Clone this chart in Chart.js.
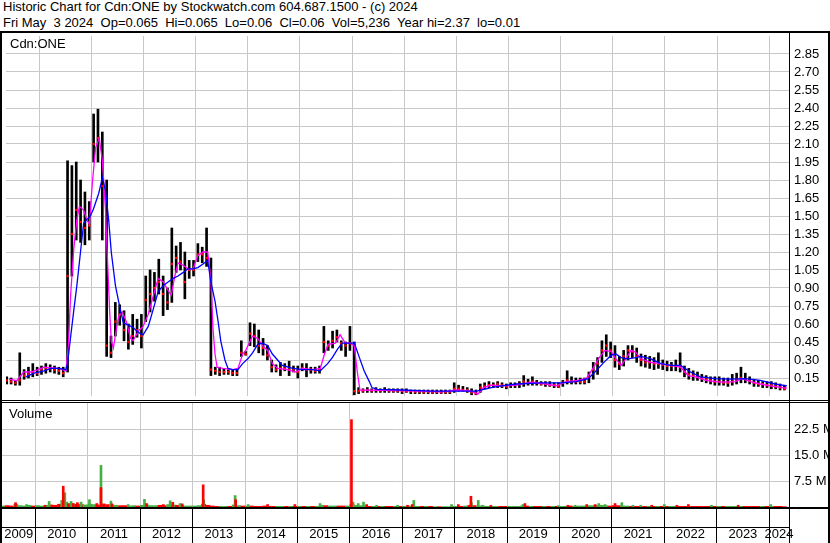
<!DOCTYPE html>
<html>
<head>
<meta charset="utf-8">
<script src="https://cdn.jsdelivr.net/npm/chart.js@4.4.0/dist/chart.umd.min.js"></script>
<style>
  body { margin:0; background:#fff; width:830px; height:543px; overflow:hidden; position:relative;
         font-family:"Liberation Sans", Arial, sans-serif; }
  .txt { position:absolute; font-size:13px; line-height:16px; white-space:pre; color:#000; }
  .ln { position:absolute; background:#000; }
  canvas { position:absolute; }
</style>
</head>
<body>
<div class="txt" style="left:3px;top:-1px">Historic Chart for Cdn:ONE by Stockwatch.com 604.687.1500 - (c) 2024</div>
<div class="txt" style="left:3px;top:15px">Fri May  3 2024  Op=0.065  Hi=0.065  Lo=0.06  Cl=0.06  Vol=5,236  Year hi=2.37  lo=0.01</div>

<canvas id="priceChart" width="828" height="368" style="left:2px;top:32px"></canvas>
<canvas id="volChart" width="828" height="140" style="left:2px;top:403px"></canvas>

<div class="txt" style="left:10px;top:36px">Cdn:ONE</div>
<div class="txt" style="left:9px;top:406px">Volume</div>

<!-- frame -->
<div class="ln" style="left:0;top:31px;width:830px;height:2px"></div>
<div class="ln" style="left:0;top:31px;width:2px;height:512px"></div>
<div class="ln" style="left:789px;top:31px;width:1px;height:512px"></div>
<div class="ln" style="left:828px;top:31px;width:2px;height:512px"></div>
<div class="ln" style="left:0;top:400px;width:830px;height:1px"></div>
<div class="ln" style="left:0;top:402px;width:830px;height:1px"></div>
<div class="ln" style="left:0;top:507px;width:830px;height:2px"></div>
<div class="ln" style="left:0;top:527px;width:790px;height:1px"></div>

<script>
// first bar = May 2009, one bar per month, last = Apr 2024
const hi = [
  0.16,0.15,0.13,0.36,0.22,0.24,0.27,0.24,                  // 2009
  0.25,0.27,0.26,0.25,0.24,0.24,1.96,1.92,1.95,1.80,1.70,1.62, // 2010
  2.35,2.39,2.20,1.80,0.50,0.78,0.76,0.71,0.60,0.68,0.64,0.68, // 2011
  1.00,1.05,1.03,1.14,1.00,0.90,1.40,1.25,1.28,1.20,1.13,1.13, // 2012
  1.27,1.24,1.40,1.15,0.24,0.24,0.23,0.22,0.22,0.23,0.46,0.37, // 2013
  0.61,0.60,0.55,0.48,0.42,0.30,0.26,0.28,0.27,0.29,0.25,0.25, // 2014
  0.27,0.27,0.24,0.24,0.25,0.58,0.46,0.54,0.55,0.46,0.45,0.58, // 2015
  0.45,0.07,0.06,0.07,0.06,0.07,0.06,0.07,0.06,0.06,0.06,0.06, // 2016
  0.06,0.05,0.05,0.05,0.05,0.05,0.05,0.05,0.05,0.05,0.05,0.11, // 2017
  0.09,0.08,0.07,0.06,0.05,0.10,0.11,0.12,0.11,0.12,0.11,0.10, // 2018
  0.11,0.11,0.12,0.17,0.14,0.16,0.13,0.12,0.12,0.12,0.11,0.11, // 2019
  0.13,0.21,0.16,0.15,0.15,0.15,0.20,0.28,0.32,0.46,0.51,0.45, // 2020
  0.42,0.33,0.38,0.42,0.42,0.40,0.35,0.34,0.33,0.32,0.36,0.30, // 2021
  0.29,0.28,0.30,0.36,0.25,0.23,0.21,0.20,0.18,0.17,0.16,0.16, // 2022
  0.16,0.15,0.15,0.18,0.19,0.24,0.19,0.16,0.14,0.13,0.12,0.12, // 2023
  0.12,0.11,0.10,0.09                                          // 2024
];
const lo = [
  0.10,0.10,0.09,0.09,0.14,0.15,0.16,0.17,
  0.18,0.19,0.20,0.19,0.18,0.16,0.20,1.00,1.30,1.28,1.26,1.30,
  1.95,1.95,1.30,0.33,0.32,0.50,0.59,0.46,0.39,0.43,0.49,0.40,
  0.62,0.70,0.79,0.85,0.67,0.72,0.78,1.03,1.05,0.81,0.98,1.00,
  1.12,1.11,1.08,0.17,0.18,0.17,0.18,0.18,0.17,0.17,0.33,0.34,
  0.42,0.41,0.36,0.34,0.30,0.20,0.20,0.17,0.21,0.17,0.20,0.15,
  0.21,0.16,0.19,0.19,0.19,0.36,0.38,0.40,0.45,0.38,0.33,0.38,
  0.01,0.02,0.03,0.03,0.03,0.03,0.03,0.03,0.03,0.03,0.03,0.02,
  0.03,0.02,0.02,0.02,0.02,0.02,0.02,0.02,0.02,0.02,0.02,0.03,
  0.04,0.04,0.03,0.01,0.01,0.03,0.06,0.07,0.07,0.07,0.07,0.06,
  0.07,0.07,0.07,0.08,0.09,0.09,0.09,0.09,0.08,0.08,0.07,0.07,
  0.08,0.10,0.10,0.10,0.10,0.10,0.11,0.14,0.18,0.28,0.33,0.32,
  0.24,0.22,0.25,0.30,0.32,0.28,0.25,0.24,0.23,0.22,0.23,0.22,
  0.21,0.21,0.21,0.20,0.16,0.14,0.13,0.13,0.12,0.11,0.10,0.09,
  0.09,0.09,0.08,0.09,0.10,0.11,0.11,0.10,0.08,0.08,0.07,0.07,
  0.06,0.06,0.05,0.05
];
const cl = [
  0.13,0.12,0.11,0.13,0.17,0.18,0.20,0.19,
  0.22,0.23,0.23,0.22,0.21,0.19,1.00,1.35,1.55,1.45,1.40,1.42,
  2.10,2.15,1.75,0.42,0.36,0.62,0.68,0.55,0.45,0.50,0.55,0.50,
  0.80,0.85,0.90,0.95,0.85,0.78,1.10,1.15,1.12,0.95,1.05,1.05,
  1.18,1.18,1.15,0.22,0.21,0.20,0.20,0.20,0.19,0.19,0.36,0.35,
  0.52,0.50,0.42,0.40,0.34,0.24,0.22,0.23,0.23,0.22,0.22,0.20,
  0.23,0.22,0.22,0.21,0.22,0.45,0.42,0.46,0.49,0.44,0.42,0.44,
  0.04,0.04,0.045,0.05,0.045,0.05,0.045,0.05,0.045,0.04,0.045,0.04,
  0.04,0.04,0.035,0.035,0.03,0.035,0.03,0.035,0.03,0.03,0.035,0.06,
  0.06,0.05,0.05,0.03,0.02,0.07,0.08,0.09,0.09,0.10,0.09,0.08,
  0.09,0.09,0.10,0.12,0.11,0.12,0.11,0.10,0.10,0.09,0.09,0.08,
  0.11,0.13,0.12,0.12,0.12,0.12,0.16,0.22,0.27,0.38,0.42,0.38,
  0.30,0.27,0.33,0.38,0.37,0.33,0.30,0.28,0.28,0.27,0.27,0.26,
  0.25,0.25,0.25,0.24,0.20,0.18,0.17,0.16,0.15,0.14,0.13,0.12,
  0.12,0.11,0.11,0.12,0.14,0.15,0.14,0.13,0.11,0.10,0.10,0.09,
  0.09,0.08,0.07,0.06
];
// background daily volume level per month, millions
const baseVol = [
  0.3,0.4,0.3,0.8,0.4,0.3,0.5,0.3,
  0.4,0.3,0.5,0.6,0.5,0.8,1.2,1.0,0.9,0.8,0.7,0.6,
  0.8,0.7,0.6,0.9,0.7,0.6,0.5,0.4,0.4,0.3,0.4,0.3,
  0.5,0.6,0.4,0.4,0.5,0.4,0.7,0.6,0.5,0.4,0.3,0.3,
  0.3,0.4,0.8,0.5,0.3,0.2,0.2,0.2,0.2,0.6,0.4,0.3,
  0.3,0.3,0.2,0.2,0.3,0.2,0.2,0.2,0.2,0.2,0.2,0.2,
  0.2,0.2,0.2,0.2,0.2,0.5,0.4,0.3,0.3,0.3,0.3,0.3,
  0.8,0.5,0.4,0.3,0.2,0.2,0.2,0.2,0.2,0.2,0.2,0.2,
  0.2,0.3,0.2,0.2,0.2,0.2,0.2,0.1,0.1,0.1,0.1,0.2,
  0.2,0.2,0.3,0.5,0.4,0.3,0.3,0.2,0.2,0.2,0.2,0.2,
  0.2,0.2,0.2,0.3,0.3,0.2,0.2,0.2,0.2,0.2,0.2,0.2,
  0.2,0.2,0.3,0.2,0.3,0.3,0.4,0.4,0.5,0.5,0.4,0.3,
  0.4,0.4,0.3,0.3,0.2,0.2,0.2,0.2,0.2,0.2,0.2,0.2,
  0.2,0.2,0.2,0.2,0.2,0.2,0.2,0.2,0.2,0.2,0.2,0.2,
  0.2,0.2,0.2,0.2,0.2,0.2,0.2,0.2,0.2,0.2,0.2,0.2,
  0.2,0.2,0.2,0.1
];

// big volume days (decimal year, millions, 1 = up day)
const spikeDate = [2009.62,2009.83,2010.18,2010.26,2010.50,2010.53,2010.56,2010.60,2010.63,2010.68,
  2010.72,2010.80,2010.87,2011.03,2011.17,2011.25,2011.25,2011.30,2011.44,2011.46,2011.77,2012.08,
  2012.12,2012.44,2012.57,2012.62,2012.76,2012.80,2013.20,2013.21,2013.81,2013.82,2014.06,2014.43,
  2014.95,2015.43,2016.03,2016.06,2016.16,2016.26,2016.32,2016.51,2016.91,2017.10,2017.19,2017.22,
  2017.94,2018.07,2018.31,2018.32,2018.45,2018.53,2018.69,2019.30,2019.34,2019.98,2020.16,2020.30,
  2020.52,2020.68,2020.75,2020.87,2021.06,2021.19,2021.40,2021.55,2021.76,2022.00,2022.24,2022.46,
  2022.90,2023.41,2024.03];
const spikeVol = [1.25,0.7,0.5,1.6,1.9,6.0,4.1,1.4,0.9,1.6,
  1.0,1.25,1.4,2.1,1.0,12.0,5.6,0.6,1.7,0.9,0.7,2.2,
  1.0,0.7,1.8,1.35,1.0,0.9,6.4,2.1,3.3,2.1,0.7,0.7,
  0.7,1.0,25.2,1.4,1.0,1.4,0.7,0.5,0.5,0.5,0.7,1.9,
  0.7,0.7,3.1,1.25,1.9,0.5,0.5,0.7,1.0,0.4,0.5,0.5,
  0.7,0.7,1.0,0.7,1.0,1.25,0.5,0.5,0.5,0.7,0.5,0.7,
  0.5,0.5,0.7];
const spikeUp = [0,1,0,1,1,0,1,1,0,1,
  0,0,1,1,0,1,0,0,1,0,1,1,
  0,0,1,0,1,0,0,1,1,0,1,0,
  0,1,0,1,1,1,0,1,1,0,0,1,
  1,0,0,1,1,1,0,1,0,1,0,1,
  0,0,1,1,0,1,1,1,0,1,0,0,
  1,0,1];

// moving averages (decimal year, price)
const maShortT = [2009.42,2009.57,2009.70,2009.84,2009.95,2010.09,2010.22,2010.37,2010.51,2010.56,2010.60,
  2010.66,2010.72,2010.77,2010.85,2010.91,2010.96,2011.02,2011.08,2011.15,2011.21,2011.27,2011.31,2011.35,
  2011.38,2011.42,2011.46,2011.52,2011.59,2011.67,2011.75,2011.80,2011.90,2011.99,2012.09,2012.19,2012.28,
  2012.38,2012.47,2012.53,2012.60,2012.66,2012.76,2012.85,2012.95,2013.04,2013.14,2013.23,2013.29,2013.33,
  2013.37,2013.41,2013.52,2013.71,2013.81,2013.90,2013.96,2014.09,2014.19,2014.28,2014.38,2014.47,2014.57,
  2014.76,2014.91,2015.05,2015.24,2015.39,2015.47,2015.54,2015.68,2015.77,2015.87,2015.96,2016.04,2016.10,
  2016.15,2016.95,2017.72,2018.01,2018.29,2018.41,2018.52,2018.67,2018.86,2019.15,2019.25,2019.44,2019.72,
  2019.91,2020.11,2020.30,2020.49,2020.62,2020.74,2020.85,2020.97,2021.06,2021.16,2021.25,2021.35,2021.44,
  2021.54,2021.73,2021.92,2022.11,2022.30,2022.45,2022.59,2022.78,2023.06,2023.35,2023.48,2023.64,2023.83,
  2024.02,2024.34];
const maShortV = [0.14,0.127,0.20,0.20,0.215,0.24,0.235,0.23,0.21,0.43,0.84,
  1.22,1.47,1.58,1.55,1.47,1.43,1.79,2.07,2.15,1.96,1.55,1.11,0.70,
  0.46,0.40,0.51,0.66,0.70,0.62,0.48,0.46,0.54,0.58,0.68,0.84,0.98,
  0.95,0.88,0.84,1.00,1.11,1.09,1.06,1.06,1.17,1.20,1.20,0.98,0.57,
  0.35,0.24,0.23,0.22,0.23,0.35,0.38,0.50,0.48,0.42,0.38,0.27,0.23,
  0.22,0.20,0.23,0.22,0.23,0.35,0.43,0.44,0.51,0.44,0.44,0.42,0.20,
  0.05,0.045,0.035,0.05,0.04,0.015,0.07,0.09,0.085,0.09,0.10,0.115,0.10,
  0.085,0.12,0.127,0.145,0.23,0.32,0.38,0.37,0.31,0.255,0.31,0.38,0.365,
  0.31,0.28,0.27,0.255,0.24,0.17,0.16,0.13,0.115,0.12,0.145,0.12,0.10,
  0.085,0.065];
const maLongT = [2009.74,2009.90,2010.09,2010.22,2010.37,2010.51,2010.54,2010.60,2010.66,2010.72,2010.79,
  2010.85,2010.91,2010.98,2011.04,2011.14,2011.21,2011.27,2011.33,2011.38,2011.46,2011.52,2011.61,2011.71,
  2011.80,2011.90,2011.99,2012.09,2012.19,2012.28,2012.38,2012.47,2012.57,2012.66,2012.76,2012.85,2012.95,
  2013.04,2013.14,2013.23,2013.29,2013.37,2013.43,2013.48,2013.56,2013.62,2013.71,2013.81,2013.90,2014.00,
  2014.09,2014.19,2014.28,2014.38,2014.47,2014.57,2014.66,2014.86,2015.05,2015.24,2015.39,2015.53,2015.62,
  2015.72,2015.81,2016.00,2016.04,2016.14,2016.23,2016.33,2016.38,2016.48,2016.95,2017.53,2018.39,2018.67,
  2018.86,2019.15,2019.63,2020.01,2020.30,2020.53,2020.68,2020.83,2020.97,2021.06,2021.16,2021.29,2021.44,
  2021.54,2021.73,2021.92,2022.11,2022.30,2022.49,2022.68,2022.97,2023.25,2023.54,2023.83,2024.11,2024.34];
const maLongV = [0.16,0.19,0.21,0.23,0.23,0.22,0.27,0.49,0.71,0.92,1.20,
  1.44,1.47,1.50,1.56,1.69,1.82,1.71,1.47,1.20,0.92,0.79,0.61,0.59,
  0.57,0.53,0.51,0.58,0.73,0.87,0.92,0.95,0.98,1.00,1.03,1.06,1.06,
  1.07,1.10,1.13,0.95,0.79,0.62,0.46,0.30,0.23,0.22,0.22,0.27,0.31,
  0.36,0.43,0.44,0.42,0.35,0.30,0.255,0.23,0.22,0.22,0.21,0.27,0.32,
  0.39,0.44,0.44,0.445,0.32,0.21,0.12,0.07,0.055,0.05,0.04,0.04,0.07,
  0.085,0.10,0.11,0.11,0.12,0.145,0.21,0.28,0.34,0.35,0.32,0.31,0.32,
  0.33,0.31,0.27,0.255,0.255,0.20,0.16,0.145,0.14,0.145,0.13,0.10,0.085];

const priceTickLabels = ['0.15','0.30','0.45','0.60','0.75','0.90','1.05','1.20','1.35','1.50',
  '1.65','1.80','1.95','2.10','2.25','2.40','2.55','2.70','2.85'];
const volTickLabels = ['7.5 M','15.0 M','22.5 M'];
const yearLabels = ['2009','2010','2011','2012','2013','2014','2015','2016','2017','2018',
  '2019','2020','2021','2022','2023','2024'];

// chart spans May 11 2009 .. May 3 2024
const xStart = 2009.361, xEnd = 2024.38;
const GRID = '#c8c8c8';
const FONT = { family: '"Liberation Sans", Arial, sans-serif', size: 13 };
Chart.defaults.font = FONT;
Chart.defaults.color = '#000';

const monthX = hi.map((_, i) => 2009 + (4 + i + 0.5) / 12);
const yearBounds = yearLabels.slice(1).map(Number);

// x axis of the volume panel: separators at year starts, labels in the middle of each year shown
const xTicks = [];
yearLabels.forEach((y, i) => {
  const a = Math.max(Number(y), xStart), b = Math.min(Number(y) + 1, xEnd);
  if (i > 0) xTicks.push({ value: Number(y), text: '', sep: true });
  xTicks.push({ value: (a + b) / 2, text: y, sep: false });
});

const baseOpts = {
  responsive: false,
  animation: false,
  devicePixelRatio: 1,
  layout: { padding: 0 },
  plugins: { legend: { display: false }, tooltip: { enabled: false } },
  events: []
};

new Chart(document.getElementById('priceChart'), {
  type: 'bar',
  data: {
    datasets: [
      {
        type: 'line', data: maLongT.map((t, i) => ({ x: t, y: maLongV[i] })),
        borderColor: '#0000ff', borderWidth: 1.3, pointRadius: 0, order: 0
      },
      {
        type: 'line', data: maShortT.map((t, i) => ({ x: t, y: maShortV[i] })),
        borderColor: '#ff00ff', borderWidth: 1.3, pointRadius: 0, order: 1
      },
      {
        type: 'line', showLine: false, data: monthX.map((t, i) => ({ x: t, y: cl[i] })),
        pointStyle: 'rect', pointRadius: 1.6, pointBackgroundColor: '#ff0000', pointBorderWidth: 0, order: 2
      },
      {
        type: 'bar', data: monthX.map((t, i) => ({ x: t, y: [lo[i], hi[i]] })),
        backgroundColor: '#000', barThickness: 2, grouped: false, order: 3
      }
    ]
  },
  options: {
    ...baseOpts,
    scales: {
      x: {
        type: 'linear', min: xStart, max: xEnd, offset: false,
        grid: { color: GRID, drawTicks: false, offset: false },
        border: { display: false },
        ticks: { display: false },
        afterBuildTicks: s => { s.ticks = yearBounds.map(v => ({ value: v })); },
        afterFit: s => { s.height = 0; }
      },
      y: {
        position: 'right', min: 0, max: 3,
        grid: { color: GRID, drawTicks: false },
        border: { display: false },
        ticks: { padding: 5, callback: (v, i) => priceTickLabels[i] },
        afterBuildTicks: s => { s.ticks = priceTickLabels.map(v => ({ value: parseFloat(v) })); },
        afterFit: s => { s.width = 41; s.paddingTop = 0; s.paddingBottom = 0; }
      }
    }
  }
});

const volColors = baseVol.map((_, i) => (i === 0 || cl[i] >= cl[i - 1]) ? '#44b044' : '#ff0000');
const upIdx = spikeDate.map((_, i) => i).filter(i => spikeUp[i] === 1);
const dnIdx = spikeDate.map((_, i) => i).filter(i => spikeUp[i] === 0);

new Chart(document.getElementById('volChart'), {
  type: 'bar',
  data: {
    datasets: [
      {
        data: dnIdx.map(i => ({ x: spikeDate[i], y: spikeVol[i] })),
        backgroundColor: '#ff0000', barThickness: 2, grouped: false, order: 0
      },
      {
        data: upIdx.map(i => ({ x: spikeDate[i], y: spikeVol[i] })),
        backgroundColor: '#44b044', barThickness: 2, grouped: false, order: 1
      },
      {
        data: monthX.map((t, i) => ({ x: t, y: baseVol[i] })),
        backgroundColor: volColors, barThickness: 4, grouped: false, order: 2
      }
    ]
  },
  options: {
    ...baseOpts,
    scales: {
      x: {
        type: 'linear', min: xStart, max: xEnd, offset: false,
        grid: {
          offset: false, tickLength: 36,
          color: c => (xTicks[c.index] && xTicks[c.index].sep) ? GRID : 'rgba(0,0,0,0)',
          tickColor: c => (xTicks[c.index] && xTicks[c.index].sep) ? '#000' : 'rgba(0,0,0,0)'
        },
        border: { display: false },
        ticks: { autoSkip: false, maxRotation: 0, minRotation: 0, padding: -16,
                 callback: (v, i) => xTicks[i].text },
        afterBuildTicks: s => { s.ticks = xTicks.map(t => ({ value: t.value })); },
        afterFit: s => { s.height = 36; }
      },
      y: {
        position: 'right', min: 0, max: 30,
        grid: { color: GRID, drawTicks: false },
        border: { display: false },
        ticks: { padding: 5, callback: (v, i) => volTickLabels[i] },
        afterBuildTicks: s => { s.ticks = volTickLabels.map(v => ({ value: parseFloat(v) })); },
        afterFit: s => { s.width = 41; s.paddingTop = 0; s.paddingBottom = 0; }
      }
    }
  }
});
</script>
</body>
</html>
